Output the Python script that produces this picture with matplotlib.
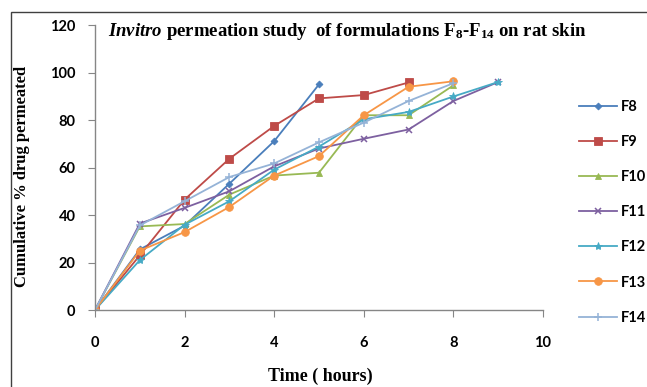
import matplotlib
matplotlib.use("Agg")
import matplotlib.pyplot as plt
from matplotlib.patches import Rectangle

plt.rcParams['mathtext.fontset'] = 'custom'
plt.rcParams['mathtext.rm'] = 'Liberation Serif:bold'
plt.rcParams['mathtext.it'] = 'Liberation Serif:bold:italic'
plt.rcParams['mathtext.bf'] = 'Liberation Serif:bold'

time_f8 = [0, 1, 2, 3, 4, 5]
f8 = [0, 25.5, 35.5, 53.2, 71.1, 95.0]
time_f9 = [0, 1, 2, 3, 4, 5, 6, 7]
f9 = [0, 23.0, 46.5, 63.7, 77.5, 89.1, 90.5, 95.8]
time_f10 = [0, 1, 2, 3, 4, 5, 6, 7, 8]
f10 = [0, 35.2, 36.2, 48.6, 56.6, 57.8, 82.0, 82.0, 94.6]
time_f11 = [0, 1, 2, 3, 4, 5, 6, 7, 8, 9]
f11 = [0, 36.4, 43.0, 50.0, 60.5, 68.0, 72.1, 76.0, 88.0, 96.0]
time_f12 = [0, 1, 2, 3, 4, 5, 6, 7, 8, 9]
f12 = [0, 21.0, 35.9, 45.8, 59.1, 68.8, 80.3, 83.4, 89.9, 96.0]
time_f13 = [0, 1, 2, 3, 4, 5, 6, 7, 8]
f13 = [0, 25.0, 32.8, 43.4, 56.6, 64.8, 82.0, 94.0, 96.3]
time_f14 = [0, 1, 2, 3, 4, 5, 6, 7, 8]
f14 = [0, 35.6, 45.8, 56.0, 61.7, 70.6, 78.9, 88.0, 95.5]

labels = ["F8", "F9", "F10", "F11", "F12", "F13", "F14"]
xs = [time_f8, time_f9, time_f10, time_f11, time_f12, time_f13, time_f14]
ys = [f8, f9, f10, f11, f12, f13, f14]
colors = ["#4A7EBB", "#BE4B48", "#98B954", "#7D60A0", "#46AAC5", "#F79646", "#95B3D7"]
markers = ["D", "s", "^", "x", "*", "o", "+"]
msizes = [3.5, 5.5, 4.5, 5, 6, 5.5, 6]

fig = plt.figure(figsize=(6.47, 3.87), dpi=100)
fig.patches.append(Rectangle((11/647, -0.1), 2, 1 - 12/387 + 0.1, transform=fig.transFigure,
                             fill=False, edgecolor="#404040", linewidth=1.0))
ax = fig.add_axes([95/647, 1 - 310/387, 448/647, 285/387])

lines = []
for x, y, c, m, ms, lab in zip(xs, ys, colors, markers, msizes, labels):
    ln, = ax.plot(x, y, color=c, marker=m, markersize=ms, linewidth=1.3,
                  markeredgewidth=1.1 if m in ("x", "+") else 0.6,
                  markeredgecolor=c, label=lab)
    lines.append(ln)

ax.set_xlim(0, 10)
ax.set_ylim(0, 120)
ax.set_xticks(range(0, 11, 2))
ax.set_yticks(range(0, 121, 20))
for s in ("top", "right"):
    ax.spines[s].set_visible(False)
for s in ("left", "bottom"):
    ax.spines[s].set_color("#868686")
    ax.spines[s].set_linewidth(1.0)
ax.tick_params(axis="x", direction="out", length=5, color="#868686", pad=14,
               labelsize=10.5, labelcolor="#000000")
ax.tick_params(axis="y", direction="out", length=5, color="#868686", pad=9,
               labelsize=10.5, labelcolor="#000000")
for t in ax.get_xticklabels() + ax.get_yticklabels():
    t.set_fontfamily("Lato")
    t.set_fontweight("bold")

fig.text(108/647, 1 - 32/387,
         r"$\mathit{Invitro}$ permeation study  of formulations F$_8$-F$_{14}$ on rat skin",
         family="Liberation Serif", fontweight="bold", fontsize=13.5, ha="left", va="center")
fig.text(22/647, 1 - 176/387, "Cumulative % drug permeated", family="Liberation Serif",
         fontweight="bold", fontsize=12, rotation=90, ha="center", va="center")
fig.text(320/647, 1 - 376/387, "Time ( hours)", family="Liberation Serif",
         fontweight="bold", fontsize=13, ha="center", va="center")

leg = fig.legend(handles=lines, labels=labels, loc="upper left",
                 bbox_to_anchor=(573/647, 1 - 94/387), frameon=False,
                 prop={"family": "Lato", "size": 10.5, "weight": "bold"},
                 handlelength=2.6, handletextpad=0.3, labelspacing=1.45,
                 borderaxespad=0)

fig.savefig("out.png", dpi=100)
